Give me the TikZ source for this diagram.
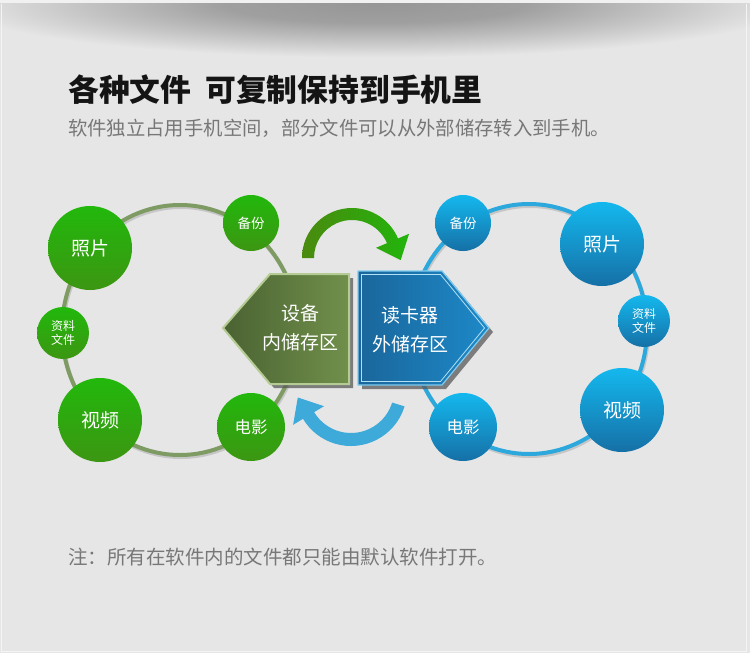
\documentclass[tikz,border=0pt]{standalone}
\usepackage{fontspec}
\setmainfont{Noto Sans CJK SC}
\usepackage{xcolor}
\usepackage{tikz}
\usetikzlibrary{
    positioning,
    calc,
}
\definecolor{pagebg}{HTML}{E6E6E6}
\definecolor{topbar}{HTML}{F1F1F1}
\definecolor{shadowdark}{HTML}{969696}
\definecolor{ringgreen}{HTML}{7E9B63}
\definecolor{ringblue}{HTML}{2CA8DC}
\definecolor{ballgreenA}{HTML}{22B80C}
\definecolor{ballgreenB}{HTML}{3C9612}
\definecolor{ballblueA}{HTML}{14B8EE}
\definecolor{ballblueB}{HTML}{1570A6}
\definecolor{innerA}{HTML}{4A6232}
\definecolor{innerB}{HTML}{71904B}
\definecolor{innerrim}{HTML}{B4CC94}
\definecolor{outerA}{HTML}{1A669B}
\definecolor{outerB}{HTML}{1D89C8}
\definecolor{outerrim}{HTML}{7FCBEF}
\definecolor{arrowgreenA}{HTML}{4A8A0E}
\definecolor{arrowgreenB}{HTML}{22B50C}
\definecolor{arrowblue}{HTML}{3DAADA}
\definecolor{subgray}{HTML}{777777}
\pgfdeclareradialshading{topshadow}{\pgfpoint{0bp}{0bp}}{%
    color(0bp)=(shadowdark); color(9bp)=(shadowdark!88!pagebg);
    color(17bp)=(shadowdark!45!pagebg); color(25bp)=(pagebg); color(50bp)=(pagebg)}
\tikzset{
    % Ball styles
    ball/.style={circle, inner sep=0pt, text=white, align=center},
    green ball/.style={ball, top color=ballgreenA, bottom color=ballgreenB},
    blue ball/.style={ball, top color=ballblueA, bottom color=ballblueB},
    bigball/.style={minimum size=84pt, font=\fontsize{19}{22}\selectfont},
    midball/.style={minimum size=68pt, font=\fontsize{16.5}{20}\selectfont},
    smallball/.style={minimum size=56pt, font=\fontsize{13.5}{16}\selectfont},
    tinyball/.style={minimum size=52pt, font=\fontsize{12}{13.5}\selectfont},
    % Ring styles
    ring/.style={line width=4pt},
    ring shadow/.style={line width=4pt, gray!60, opacity=0.6},
    % Storage styles
    hexshadow/.style={fill=black!65, opacity=0.75},
    hextext/.style={text=white, align=center, inner sep=0pt,
                    font=\fontsize{19}{29}\selectfont},
    % Text styles
    title/.style={anchor=west, inner sep=0pt, text=black!92,
                  font=\fontsize{30.8}{36}\selectfont\bfseries},
    subtitle/.style={anchor=west, inner sep=0pt, text=subgray,
                     font=\fontsize{19.35}{23}\selectfont},
    footnote/.style={subtitle, font=\fontsize{19.5}{23}\selectfont},
}

\begin{document}
\begin{tikzpicture}[x=1pt, y=-1pt]
    % Page
    \fill[pagebg] (0,0) rectangle (750,653);
    \fill[topbar] (0,0) rectangle (750,3.5);
    \begin{scope}
        \clip (0,3.5) rectangle (750,70);
        \shade[shading=topshadow] (375,3.5) ellipse [x radius=420, y radius=54];
    \end{scope}
    \draw[white!55!pagebg, line width=1.5pt] (1.5,3.5) -- (1.5,651.5) -- (746.5,651.5) -- (746.5,3.5);

    % Rings
    \draw[ring shadow] (181,332) ellipse [x radius=118, y radius=125];
    \draw[ring, ringgreen] (180,330) ellipse [x radius=118, y radius=125];
    \draw[ring shadow] (530,331) ellipse [x radius=118, y radius=125];
    \draw[ring, ringblue] (529,329) ellipse [x radius=118, y radius=125];

    % Storage areas
    \fill[hexshadow, shift={(4,4)}] (223,328) -- (270,274) -- (349,274) -- (349,384) -- (270,384) -- cycle;
    \shadedraw[left color=innerA, right color=innerB, draw=innerrim, line width=2pt]
        (223,328) -- (270,274) -- (349,274) -- (349,384) -- (270,384) -- cycle;
    \fill[hexshadow, shift={(4,4)}] (358,271) -- (442,271) -- (489,328) -- (442,385) -- (358,385) -- cycle;
    \shadedraw[left color=outerA, right color=outerB, draw=outerrim, line width=1.2pt]
        (358,271) -- (442,271) -- (489,328) -- (442,385) -- (358,385) -- cycle;
    \draw[outerrim!60!white, line width=0.8pt]
        (361.5,274.5) -- (440.5,274.5) -- (484.5,328) -- (440.5,381.5) -- (361.5,381.5) -- cycle;
    \node[hextext] (inside) at (300,328) {设备\\内储存区};
    \node[hextext] (outside) at (410,330) {读卡器\\外储存区};

    % Arrows
    \begin{scope}[shift={(352,258)}]
        \shade[left color=arrowgreenA, right color=arrowgreenB]
            (180:38) -- (180:50) arc[start angle=180, end angle=337, radius=50]
            -- (337:62) -- (48.7,2.1) -- (337:26)
            -- (337:38) arc[start angle=337, end angle=180, radius=38] -- cycle;
    \end{scope}
    \begin{scope}[shift={(351,390)}]
        \fill[arrowblue]
            (17:43) -- (17:56) arc[start angle=17, end angle=149, radius=56]
            -- (149:67.5) -- (-53.2,7.5) -- (149:31.5)
            -- (149:43) arc[start angle=149, end angle=17, radius=43] -- cycle;
    \end{scope}

    % Inside storage files
    \node[green ball, bigball] (gphoto) at (90,248) {照片};
    \node[green ball, smallball] (gbackup) at (251,223) {备份};
    \node[green ball, tinyball] (gdocs) at (63,333) {资料\\文件};
    \node[green ball, bigball] (gvideo) at (100,420) {视频};
    \node[green ball, midball] (gmovie) at (251,427) {电影};

    % Outside storage files
    \node[blue ball, smallball] (bbackup) at (463,223) {备份};
    \node[blue ball, bigball] (bphoto) at (602,244) {照片};
    \node[blue ball, tinyball] (bdocs) at (644,321) {资料\\文件};
    \node[blue ball, bigball] (bvideo) at (622,410) {视频};
    \node[blue ball, midball] (bmovie) at (463,427) {电影};

    % Labels
    \node[title] (heading) at (68,90) {各种文件\hspace{14pt}可复制保持到手机里};
    \node[subtitle] (intro) at (68,128) {软件独立占用手机空间，部分文件可以从外部储存转入到手机。};
    \node[footnote] (note) at (68,557) {注：所有在软件内的文件都只能由默认软件打开。};
\end{tikzpicture}
\end{document}
